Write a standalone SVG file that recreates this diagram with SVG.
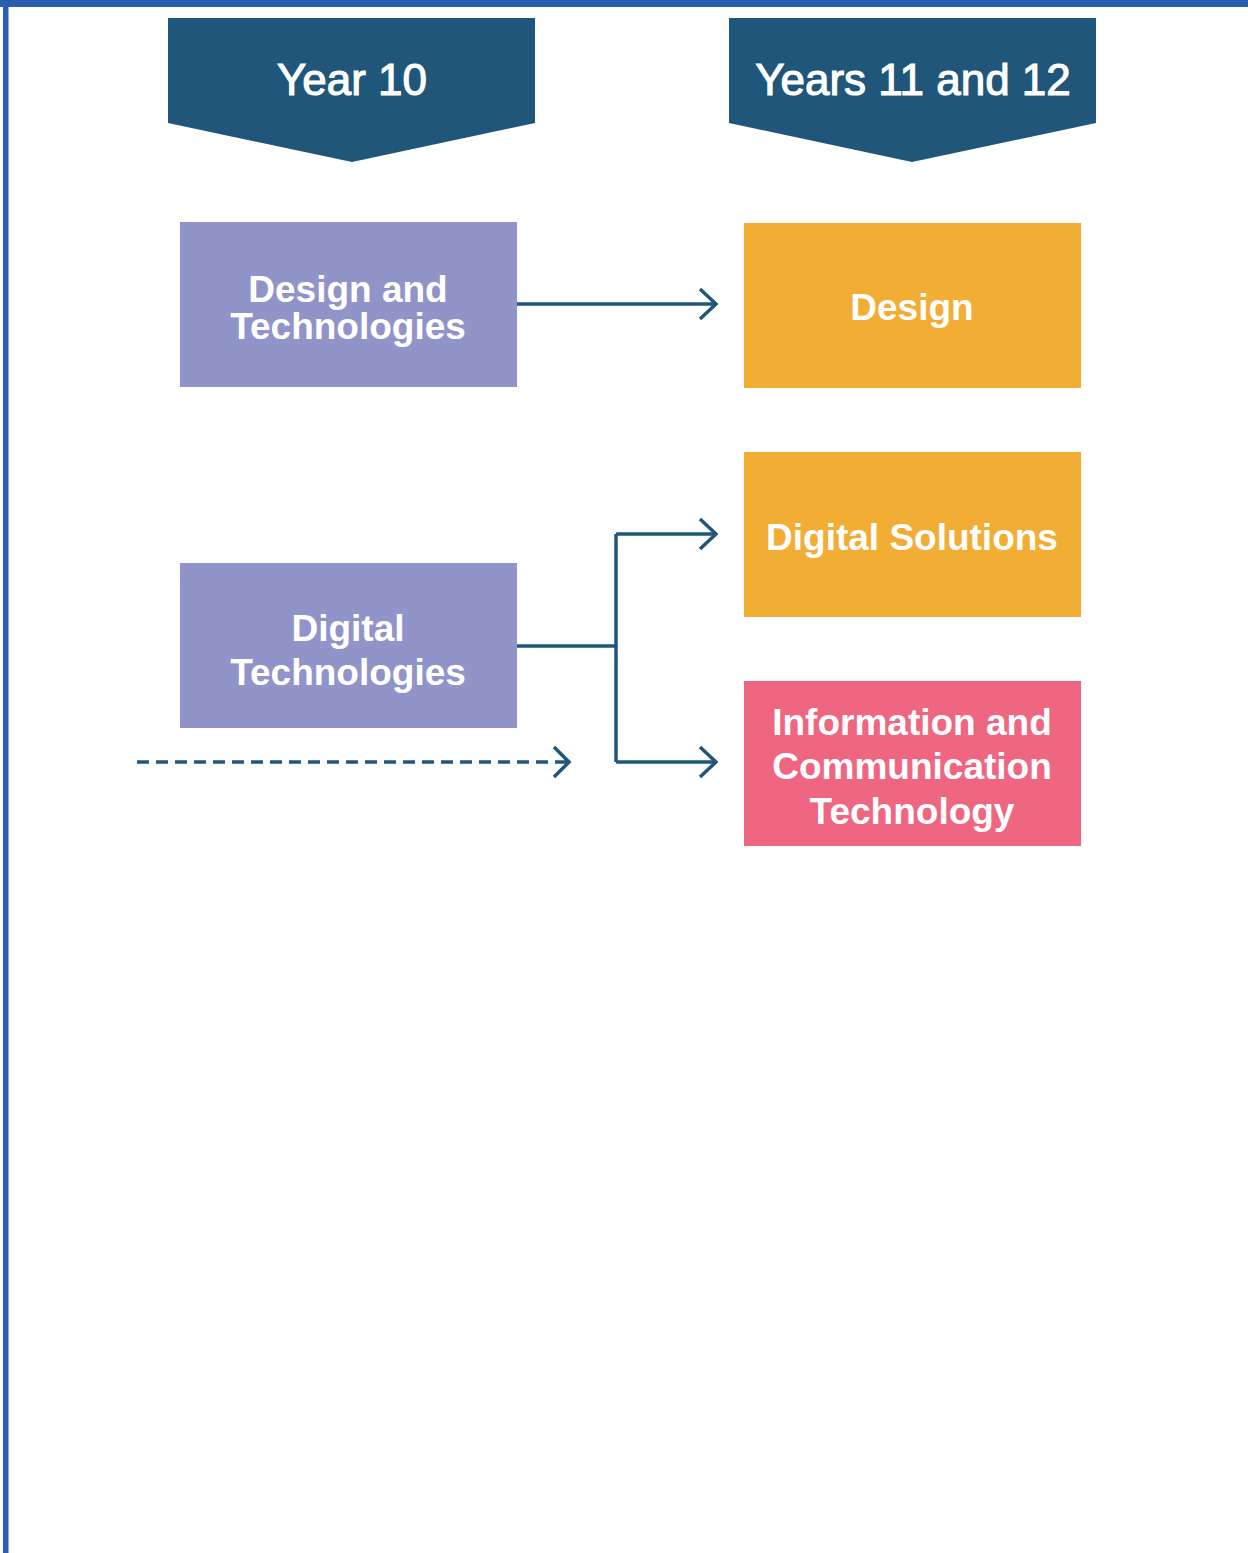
<svg xmlns="http://www.w3.org/2000/svg" width="1248" height="1553" viewBox="0 0 1248 1553">
<style>
.hdr{fill:#1F5679}
.hdrt{font-family:"Liberation Sans",Arial,sans-serif;font-size:44px;fill:#fff;stroke:#fff;stroke-width:1.1;text-anchor:middle}
.lbl{font-family:"Liberation Sans",Arial,sans-serif;font-size:37px;font-weight:bold;fill:#fff;text-anchor:middle}
.p{fill:#9194C8}
.o{fill:#F2AD35}
.r{fill:#EF6681}
.c{fill:none;stroke:#1F5679;stroke-width:3.5}
</style>
<defs>
<marker id="ah" viewBox="0 0 20 34" refX="18" refY="17" markerWidth="20" markerHeight="34" markerUnits="userSpaceOnUse" orient="auto">
<path d="M2,2 L18,17 L2,32" fill="none" stroke="#1F5679" stroke-width="3.5"/>
</marker>
</defs>
<rect x="0" y="0" width="1248" height="1553" fill="#fff"/>
<rect x="0" y="0" width="1248" height="7" fill="#2B5EAE"/>
<rect x="3" y="0" width="5.5" height="1553" fill="#2B5EAE"/>
<g id="hdr-year10">
<polygon class="hdr" points="168,18 535,18 535,123 352,162 168,123"/>
<text class="hdrt" x="352" y="95">Year 10</text>
</g>
<g id="hdr-years1112">
<polygon class="hdr" points="729,18 1096,18 1096,123 912,162 729,123"/>
<text class="hdrt" x="913" y="95">Years 11 and 12</text>
</g>
<g id="connectors">
<path class="c" d="M517,304 H716" marker-end="url(#ah)"/>
<path class="c" d="M517,646 H616"/>
<path class="c" d="M616,534 V762"/>
<path class="c" d="M616,534 H716" marker-end="url(#ah)"/>
<path class="c" d="M616,762 H716" marker-end="url(#ah)"/>
<path class="c" d="M137,762 H568" stroke-dasharray="12,7"/>
<path d="M554,747 L569,762 L554,777" fill="none" stroke="#1F5679" stroke-width="3.5"/>
</g>
<g id="design-tech">
<rect class="p" x="180" y="222" width="337" height="165"/>
<text class="lbl" x="348" y="302">Design and</text>
<text class="lbl" x="348" y="339">Technologies</text>
</g>
<g id="digital-tech">
<rect class="p" x="180" y="563" width="337" height="165"/>
<text class="lbl" x="348" y="641">Digital</text>
<text class="lbl" x="348" y="685">Technologies</text>
</g>
<g id="design">
<rect class="o" x="744" y="223" width="337" height="165"/>
<text class="lbl" x="912" y="320">Design</text>
</g>
<g id="digital-solutions">
<rect class="o" x="744" y="452" width="337" height="165"/>
<text class="lbl" x="912" y="550">Digital Solutions</text>
</g>
<g id="ict">
<rect class="r" x="744" y="681" width="337" height="165"/>
<text class="lbl" x="912" y="735">Information and</text>
<text class="lbl" x="912" y="779">Communication</text>
<text class="lbl" x="912" y="824">Technology</text>
</g>
</svg>
